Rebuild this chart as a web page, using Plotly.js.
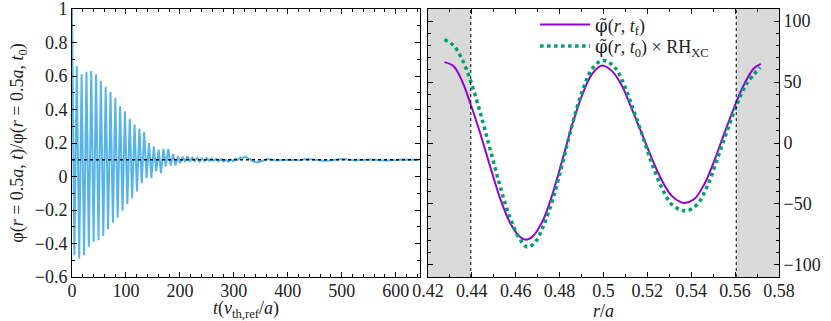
<!DOCTYPE html>
<html>
<head>
<meta charset="utf-8">
<script src="https://cdn.plot.ly/plotly-3.0.1.min.js"></script>
<style>
  body { margin: 0; padding: 0; background: #fff; }
  #myPlot { width: 831px; height: 321px; }
</style>
</head>
<body>
<div id="myPlot"></div>
<script>
// Left panel: normalised potential at r = 0.5a versus time (peaks and troughs)
var tTime = [0, 4.4, 8.9, 13.4, 17.8, 22.3, 26.8, 31.2, 35.7, 40.1, 44.6, 49.1, 53.5, 58, 62.4, 66.9,
    71.4, 75.8, 80.3, 84.7, 89.2, 93.7, 98.1, 102.6, 107, 111.5, 116, 120.4, 124.9, 129.3, 133.8, 138.3,
    142.7, 147.2, 151.6, 156.1, 160.6, 165, 169.5, 173.9, 178.4, 182.9, 187.3, 191.8, 196.2, 200.7,
    205.2, 209.6, 214, 218.5, 223, 227.4, 231.9, 236.3, 240.8, 245.3, 249.7, 254.2, 258.6, 263.1,
    267.6, 272, 276.5, 281, 285.4, 289.9, 294.3, 298.8, 303.3, 307.7, 312.2, 316.6, 321.1, 325.6,
    330, 334.5, 339, 343.4, 350, 362, 380, 400, 420, 436, 452, 466, 480, 491, 505, 516, 528, 540,
    555, 570, 584, 600, 614, 632, 645];
var phiRatio = [1.0, -0.47, 0.66, -0.49, 0.61, -0.47, 0.625, -0.42, 0.63, -0.39, 0.61, -0.38, 0.57, -0.355, 0.535, -0.315,
    0.505, -0.275, 0.47, -0.245, 0.42, -0.205, 0.39, -0.165, 0.345, -0.13, 0.31, -0.09, 0.285, -0.04, 0.265, -0.01,
    0.2, -0.01, 0.18, 0.03, 0.16, 0.02, 0.165, 0.06, 0.165, 0.065, 0.135, 0.065, 0.12, 0.08,
    0.118, 0.088, 0.122, 0.09, 0.114, 0.092, 0.112, 0.09, 0.108, 0.092, 0.11, 0.094, 0.108, 0.095,
    0.106, 0.092, 0.104, 0.09, 0.1, 0.088, 0.102, 0.092, 0.106, 0.1, 0.114, 0.11, 0.118, 0.108,
    0.105, 0.092, 0.086, 0.084, 0.09, 0.104, 0.095, 0.1, 0.097, 0.104, 0.1, 0.094, 0.095, 0.102, 0.104, 0.098, 0.097, 0.1,
    0.101, 0.097, 0.095, 0.098, 0.102, 0.1, 0.1];
var rhLevelT = [0, 645];
var rhLevel = [0.1, 0.1];
var leftTicks = [-0.6, -0.4, -0.2, 0, 0.2, 0.4, 0.6, 0.8, 1];

// Right panel: radial profiles
var rFinal = [0.4275, 0.4317, 0.4355, 0.4396, 0.4438, 0.4483, 0.4528, 0.4573, 0.4619, 0.4645, 0.4678,
    0.4724, 0.4769, 0.4814, 0.4859, 0.4904, 0.4949, 0.4994, 0.5039, 0.5084, 0.5129, 0.5174, 0.5219,
    0.5264, 0.5309, 0.5354, 0.5369, 0.5414, 0.5459, 0.5504, 0.5549, 0.5594, 0.5639, 0.5684, 0.5717];
var phiFinal = [66.4, 63, 51, 31, 8, -19, -45, -65, -77, -79.4, -76.5,
    -63.5, -41, -13, 16, 40, 57, 63.7, 59, 47, 28, 8, -12,
    -30, -43, -48.8, -49.3, -46, -34, -15, 7, 28.5, 47.4, 61, 65];
var rInit = [0.4275, 0.4317, 0.4355, 0.4396, 0.4438, 0.4483, 0.4528, 0.4573, 0.4619, 0.4652, 0.4686,
    0.4724, 0.4769, 0.4814, 0.4859, 0.4904, 0.4949, 0.4997, 0.5047, 0.5084, 0.5129, 0.5174, 0.5219,
    0.5264, 0.5309, 0.5354, 0.5384, 0.5429, 0.5474, 0.5519, 0.5564, 0.5609, 0.5654, 0.5714];
var phiInitRH = [84.8, 80, 69, 50, 25, -5, -35, -61, -79, -85.4, -82,
    -69, -46, -16, 16, 43, 61, 67.8, 63, 52, 31, 8, -16,
    -36, -50, -55, -55.5, -50, -35, -13, 10, 32, 49, 62];
var bufferInner = [0.42, 0.4395];
var bufferOuter = [0.5605, 0.58];

var serif = "Liberation Serif";
var phiTilde = "<span style=\"font-family:DejaVu Serif\">φ̃</span>";

var data = [
    {
        x: tTime, y: phiRatio, xaxis: "x", yaxis: "y",
        mode: "lines", line: { color: "#56B4E9", width: 2 },
        showlegend: false
    },
    {
        x: rhLevelT, y: rhLevel, xaxis: "x", yaxis: "y",
        mode: "lines", line: { color: "black", width: 1.5, dash: "dot" },
        showlegend: false
    },
    {
        x: rFinal, y: phiFinal, xaxis: "x2", yaxis: "y2",
        mode: "lines", line: { color: "#9400D3", width: 2, shape: "spline", smoothing: 1 },
        name: phiTilde + "(<i>r</i>, <i>t</i><sub>f</sub>)", legend: "legend"
    },
    {
        x: rInit, y: phiInitRH, xaxis: "x2", yaxis: "y2",
        mode: "lines", line: { color: "#009E73", width: 3.5, dash: "dot", shape: "spline", smoothing: 1 },
        name: phiTilde + "(<i>r</i>, <i>t</i><sub>0</sub>) × RH<sub>XC</sub>", legend: "legend2"
    }
];

var axisCommon = {
    showline: true, linecolor: "black", linewidth: 1, mirror: "allticks",
    ticks: "inside", ticklen: 5, tickcolor: "black", tickwidth: 1,
    showgrid: false, zeroline: false, ticklabeloverflow: "allow",
    tickfont: { family: serif, size: 18, color: "#222" }
};

function axis(extra) {
    return Object.assign({}, axisCommon, extra);
}

var legendCommon = {
    xanchor: "left", yanchor: "top",
    bgcolor: "rgba(0,0,0,0)", borderwidth: 0,
    font: { family: serif, size: 18, color: "#222" },
    itemwidth: 50
};

var layout = {
    width: 831, height: 321,
    margin: { l: 72, r: 52, t: 6, b: 44 },
    paper_bgcolor: "white", plot_bgcolor: "white",
    font: { family: serif, size: 18, color: "#222" },
    xaxis: axis({
        domain: [0, 0.4922], range: [0, 645], dtick: 100, ticklabelstandoff: -3,
        minor: { dtick: 20, ticks: "inside", ticklen: 3, tickcolor: "black" },
        title: { text: "<i>t</i>(<i>v</i><sub>th,ref</sub>/<i>a</i>)", standoff: 6, font: { family: serif, size: 18 } }
    }),
    yaxis: axis({
        anchor: "x", range: [-0.6, 1], tickvals: leftTicks,
        minor: { dtick: 0.1, ticks: "inside", ticklen: 3, tickcolor: "black" },
        title: { text: "φ(<i>r</i> = 0.5<i>a</i>, <i>t</i>)/φ(<i>r</i> = 0.5<i>a</i>, <i>t</i><sub>0</sub>)", standoff: 6, font: { family: serif, size: 18 } }
    }),
    xaxis2: axis({
        domain: [0.5035, 1], anchor: "y2", range: [0.42, 0.58], dtick: 0.02, ticklabelstandoff: -3,
        minor: { dtick: 0.01, ticks: "inside", ticklen: 3, tickcolor: "black" },
        title: { text: "<i>r</i>/<i>a</i>", standoff: 6, font: { family: serif, size: 18 } }
    }),
    yaxis2: axis({
        anchor: "x2", side: "right", range: [-110, 110], dtick: 50,
        minor: { dtick: 10, ticks: "inside", ticklen: 3, tickcolor: "black" }
    }),
    shapes: [
        { type: "rect", xref: "x2", yref: "y2 domain", x0: bufferInner[0], x1: bufferInner[1], y0: 0, y1: 1,
          fillcolor: "#d9d9d9", line: { width: 0 }, layer: "below" },
        { type: "rect", xref: "x2", yref: "y2 domain", x0: bufferOuter[0], x1: bufferOuter[1], y0: 0, y1: 1,
          fillcolor: "#d9d9d9", line: { width: 0 }, layer: "below" },
        { type: "line", xref: "x2", yref: "y2 domain", x0: bufferInner[1], x1: bufferInner[1], y0: 0, y1: 1,
          line: { color: "black", width: 1, dash: "dot" } },
        { type: "line", xref: "x2", yref: "y2 domain", x0: bufferOuter[0], x1: bufferOuter[0], y0: 0, y1: 1,
          line: { color: "black", width: 1, dash: "dot" } }
    ],
    legend: Object.assign({ x: 0.655, y: 1.01 }, legendCommon),
    legend2: Object.assign({ x: 0.655, y: 0.93 }, legendCommon)
};

Plotly.newPlot("myPlot", data, layout, { displayModeBar: false, staticPlot: true });
</script>
</body>
</html>
